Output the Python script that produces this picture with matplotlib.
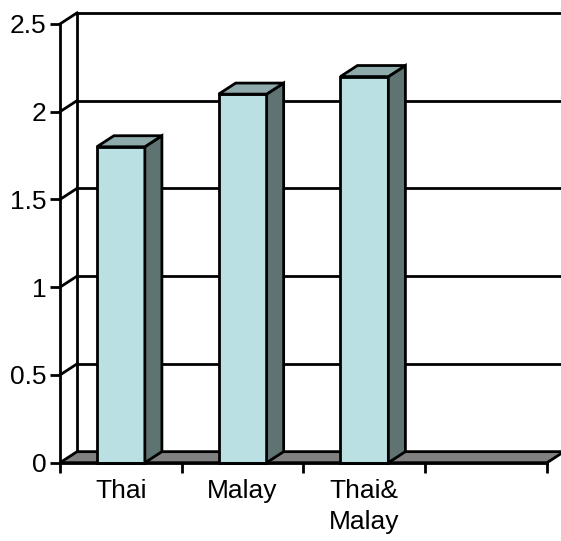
import matplotlib.pyplot as plt
from matplotlib.patches import Polygon

plt.rcParams['font.family'] = ['Liberation Sans', 'DejaVu Sans']

# data
categories = ["Thai", "Malay", "Thai&\nMalay"]
values = [1.8, 2.1, 2.2]
n_slots = 4
y_ticks = [0, 0.5, 1, 1.5, 2, 2.5]

# colours (excel-like 3d column look)
front_color = "#BBE0E3"
side_color = "#5F7373"
top_color = "#8FAAAB"
floor_color = "#808080"

# 3d depth offsets in data units
depth_x = 0.14
depth_y = 0.063
bar_w = 0.394
lw = 2.0

fig = plt.figure(figsize=(5.61, 5.41), dpi=100)
ax = fig.add_axes([60 / 561, (541 - 462.7) / 541, 501 / 561, (462.7 - 12) / 541])
ax.set_xlim(0, 4.115)
ax.set_ylim(0, 2.568)

# floor
floor = Polygon([(0, 0), (n_slots, 0), (n_slots + depth_x, depth_y), (depth_x, depth_y)],
                closed=True, facecolor=floor_color, edgecolor="black", lw=lw, zorder=1, clip_on=False)
ax.add_patch(floor)

# back wall edges + gridlines
top_val = y_ticks[-1]
ax.plot([depth_x, depth_x], [depth_y, top_val + depth_y], color="black", lw=lw, zorder=0.5, clip_on=False)
for t in y_ticks[1:]:
    ax.plot([depth_x, n_slots + depth_x], [t + depth_y, t + depth_y], color="black", lw=lw, zorder=0.5, clip_on=False)
    ax.plot([0, depth_x], [t, t + depth_y], color="black", lw=lw, zorder=0.5, clip_on=False)

# bars: front face through ax.bar, side and top as polygons
centers = [i + 0.5 for i in range(len(values))]
bars = ax.bar(centers, values, width=bar_w, color=front_color, edgecolor="black", lw=lw, zorder=3, clip_on=False)
for b, v in zip(bars, values):
    x0 = b.get_x()
    x1 = x0 + b.get_width()
    side = Polygon([(x1, 0), (x1 + depth_x, depth_y), (x1 + depth_x, v + depth_y), (x1, v)],
                   closed=True, facecolor=side_color, edgecolor="black", lw=lw, zorder=3, clip_on=False)
    top = Polygon([(x0, v), (x0 + depth_x, v + depth_y), (x1 + depth_x, v + depth_y), (x1, v)],
                  closed=True, facecolor=top_color, edgecolor="black", lw=lw, zorder=3, clip_on=False)
    ax.add_patch(side)
    ax.add_patch(top)

# axes / ticks
for s in ["top", "right"]:
    ax.spines[s].set_visible(False)
ax.spines["left"].set_bounds(0, top_val)
ax.spines["bottom"].set_bounds(0, n_slots)
ax.spines["left"].set_linewidth(lw)
ax.spines["bottom"].set_linewidth(lw)
ax.spines["left"].set_zorder(4)
ax.spines["bottom"].set_zorder(4)

ax.set_yticks(y_ticks)
ax.set_yticklabels(["0", "0.5", "1", "1.5", "2", "2.5"])
ax.set_xticks(range(n_slots + 1))
ax.set_xticklabels([])
ax.set_xticks(centers, minor=True)
ax.set_xticklabels(categories, minor=True)
ax.tick_params(axis="both", which="major", direction="out", length=7.2, width=lw, labelsize=19, pad=2.5)
ax.tick_params(axis="x", which="minor", length=0, labelsize=19, pad=12)
for lab in ax.get_xticklabels(minor=True):
    lab.set_linespacing(1.35)

ax.patch.set_visible(False)
fig.savefig("out.png", dpi=100)
